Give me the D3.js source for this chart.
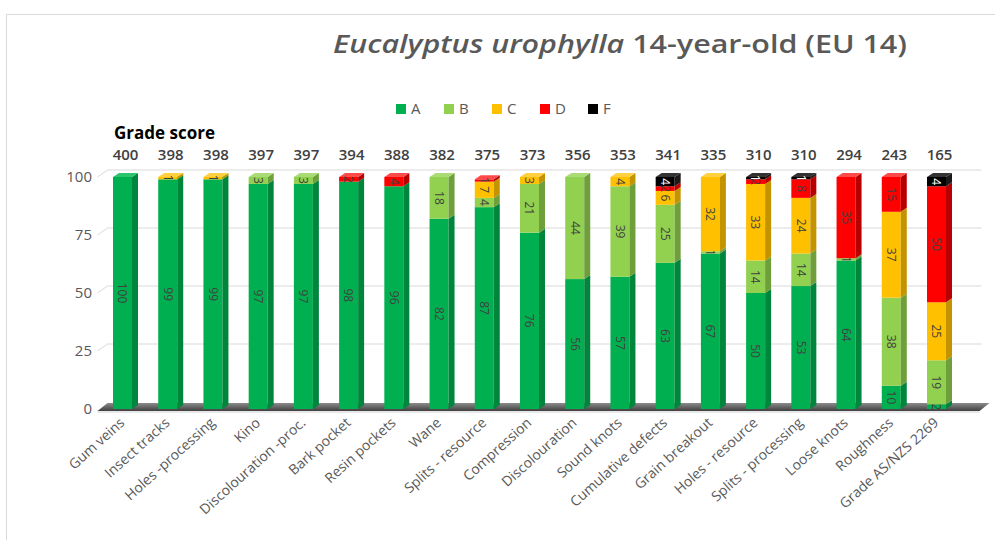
<!DOCTYPE html>
<html lang="en">
  <head>
    <meta charset="utf-8">
    <script src="https://d3js.org/d3.v7.min.js"></script>
    <title>Eucalyptus urophylla 14-year-old (EU 14)</title>
    <style>
      body { margin: 0; background: #fff; }
      text { font-family: "Open Sans", "DejaVu Sans", sans-serif; }
    </style>
  </head>
  <body>
    <script>

    // defect categories, left to right
    var categories = ["Gum veins", "Insect tracks", "Holes -processing", "Kino",
      "Discolouration -proc.", "Bark pocket", "Resin pockets", "Wane",
      "Splits - resource", "Compression", "Discolouration", "Sound knots",
      "Cumulative defects", "Grain breakout", "Holes - resource",
      "Splits - processing", "Loose knots", "Roughness", "Grade AS/NZS 2269"];

    var grades = ["A", "B", "C", "D", "F"];

    // % of boards in each grade
    var gradeA = [100, 99, 99, 97, 97, 98, 96, 82, 87, 76, 56, 57, 63, 67, 50, 53, 64, 10, 2];
    var gradeB = [0, 0, 0, 3, 3, 0, 0, 18, 4, 21, 44, 39, 25, 1, 14, 14, 1, 38, 19];
    var gradeC = [0, 1, 1, 0, 0, 0, 0, 0, 7, 3, 0, 4, 6, 32, 33, 24, 0, 37, 25];
    var gradeD = [0, 0, 0, 0, 0, 2, 4, 0, 1, 0, 0, 0, 2, 0, 2, 8, 35, 15, 50];
    var gradeF = [0, 0, 0, 0, 0, 0, 0, 0, 0, 0, 0, 0, 4, 0, 1, 1, 0, 0, 4];

    var gradeScore = [400, 398, 398, 397, 397, 394, 388, 382, 375, 373, 356, 353, 341, 335, 310, 310, 294, 243, 165];

    var yTicks = [0, 25, 50, 75, 100];

    var colors = {
      A: ["#00b050", "#00853c", "#2cc46c"],
      B: ["#92d050", "#6e9f3a", "#a9dc74"],
      C: ["#ffc000", "#c49300", "#ffd040"],
      D: ["#ff0000", "#b80000", "#ff4a4a"],
      F: ["#000000", "#1a1a1a", "#333333"]
    };

    var width = 995, height = 540;
    var depthX = 6, depthY = 4;      // bar depth
    var wallX = 10, wallY = 7;       // back wall offset
    var barW = 19;

    var svg = d3.select("body").append("svg")
        .attr("width", width)
        .attr("height", height);

    // outer frame
    svg.append("rect")
        .attr("x", 6.5).attr("y", 14.5)
        .attr("width", 1100).attr("height", 700)
        .attr("fill", "none")
        .attr("stroke", "#d9d9d9");

    var x = d3.scalePoint()
        .domain(categories)
        .range([122.5, 936.5]);

    var y = d3.scaleLinear()
        .domain([0, 100])
        .range([409, 177]);

    function draw() {
      var table = categories.map(function(c, i) {
        return {cat: c, A: gradeA[i], B: gradeB[i], C: gradeC[i], D: gradeD[i], F: gradeF[i]};
      });
      var series = d3.stack().keys(grades)(table);

      // title (the source picture is a bit stretched sideways)
      var tg = svg.append("g");
      var title = tg.append("text")
          .attr("text-anchor", "middle")
          .attr("fill", "#595959")
          .style("font-size", "25px")
          .style("font-weight", "600");
      title.append("tspan").style("font-style", "italic").text("Eucalyptus urophylla");
      title.append("tspan").text(" 14-year-old (EU 14)");
      var tl = title.node().getComputedTextLength();
      tg.attr("transform", "translate(620,53) scale(" + (574 / tl) + ",1)");

      // legend
      var legend = svg.selectAll(".legend")
          .data(grades)
          .enter().append("g")
          .attr("transform", function(d, i) { return "translate(" + (396 + i * 48) + ",109)"; });
      legend.append("rect")
          .attr("x", 0).attr("y", -5)
          .attr("width", 10).attr("height", 10)
          .attr("fill", function(d) { return colors[d][0]; });
      legend.append("text")
          .attr("x", 15).attr("y", 5)
          .attr("fill", "#595959")
          .style("font-size", "15px")
          .text(function(d) { return d; });

      var x0 = x.range()[0] - 25, x1 = x.range()[1] + 45;

      // back wall gridlines
      svg.selectAll(".grid")
          .data(yTicks.filter(function(d) { return d > 0; }))
          .enter().append("path")
          .attr("fill", "none")
          .attr("stroke", "#d9d9d9")
          .attr("d", function(d) {
            return "M" + x0 + "," + y(d) + "L" + (x0 + wallX) + "," + (y(d) - wallY) + "L" + x1 + "," + (y(d) - wallY);
          });

      // floor
      var fy = y(0);
      var grad = svg.append("defs").append("linearGradient")
          .attr("id", "floor").attr("x1", 0).attr("y1", 0).attr("x2", 0).attr("y2", 1);
      grad.append("stop").attr("offset", "0%").attr("stop-color", "#8c8c8c");
      grad.append("stop").attr("offset", "100%").attr("stop-color", "#3f3f3f");
      svg.append("path")
          .attr("fill", "url(#floor)")
          .attr("d", "M" + x0 + "," + (fy + 2) + "L" + (x0 + wallX) + "," + (fy - wallY + 1) +
            "L" + (x1 + 8) + "," + (fy - wallY + 1) + "L" + (x1 - 2) + "," + (fy + 2) + "Z");
      svg.append("line")
          .attr("x1", x0).attr("x2", x1 - 2)
          .attr("y1", fy + 3).attr("y2", fy + 3)
          .attr("stroke", "#d0d0d0");

      // y axis labels
      svg.selectAll(".ytick")
          .data(yTicks)
          .enter().append("text")
          .attr("x", 92)
          .attr("y", function(d) { return y(d) + 5; })
          .attr("text-anchor", "end")
          .attr("fill", "#595959")
          .style("font-size", "15px")
          .text(function(d) { return d; });

      // bars
      var layers = svg.selectAll(".layer")
          .data(series)
          .enter().append("g")
          .attr("class", "layer");

      var seg = layers.selectAll("g")
          .data(function(s) {
            return s.map(function(d) { return {key: s.key, y0: d[0], y1: d[1], cat: d.data.cat}; })
              .filter(function(d) { return d.y1 > d.y0; });
          })
          .enter().append("g");

      seg.append("rect")
          .attr("x", function(d) { return x(d.cat) - barW / 2; })
          .attr("y", function(d) { return y(d.y1); })
          .attr("width", barW)
          .attr("height", function(d) { return y(d.y0) - y(d.y1); })
          .attr("fill", function(d) { return colors[d.key][0]; });

      seg.append("path")
          .attr("fill", function(d) { return colors[d.key][1]; })
          .attr("d", function(d) {
            var r = x(d.cat) + barW / 2;
            return "M" + r + "," + y(d.y1) + "L" + (r + depthX) + "," + (y(d.y1) - depthY) +
              "L" + (r + depthX) + "," + (y(d.y0) - depthY) + "L" + r + "," + y(d.y0) + "Z";
          });

      // top face on the highest segment only
      seg.filter(function(d) { return d.y1 >= 99; })
          .append("path")
          .attr("fill", function(d) { return colors[d.key][2]; })
          .attr("d", function(d) {
            var l = x(d.cat) - barW / 2, t = y(d.y1);
            return "M" + l + "," + t + "L" + (l + depthX) + "," + (t - depthY) +
              "L" + (l + barW + depthX) + "," + (t - depthY) + "L" + (l + barW) + "," + t + "Z";
          });

      seg.append("text")
          .attr("transform", function(d) {
            return "translate(" + x(d.cat) + "," + y((d.y0 + d.y1) / 2) + ") rotate(90)";
          })
          .attr("text-anchor", "middle")
          .attr("dy", "0.35em")
          .attr("fill", function(d) { return d.key === "F" ? "#fff" : "#404040"; })
          .style("font-size", "12px")
          .text(function(d) { return d.y1 - d.y0; });

      // grade score row
      svg.append("text")
          .attr("x", 114).attr("y", 139)
          .attr("fill", "#000")
          .style("font-size", "17px")
          .style("font-weight", "bold")
          .text("Grade score");

      svg.selectAll(".score")
          .data(gradeScore)
          .enter().append("text")
          .attr("x", function(d, i) { return x(categories[i]) + 3; })
          .attr("y", 160)
          .attr("text-anchor", "middle")
          .attr("fill", "#404040")
          .style("font-size", "15px")
          .style("font-weight", "600")
          .text(function(d) { return d; });

      // category labels
      svg.selectAll(".xlab")
          .data(categories)
          .enter().append("text")
          .attr("transform", function(d) {
            return "translate(" + (x(d) + 3) + ",424) rotate(-42)";
          })
          .attr("text-anchor", "end")
          .attr("fill", "#595959")
          .style("font-size", "14px")
          .text(function(d) { return d; });
    }

    draw();
    </script>
  </body>
</html>
